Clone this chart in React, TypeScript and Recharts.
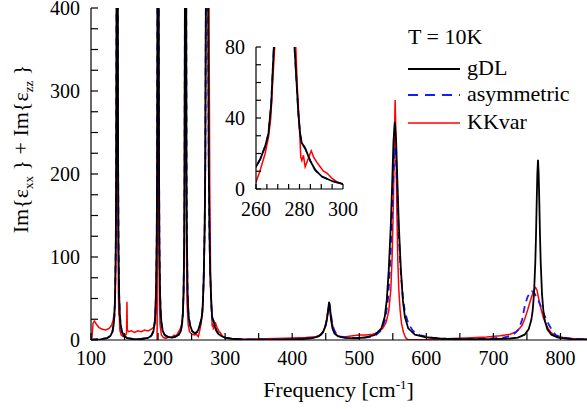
import React from 'react';
import { LineChart, Line, XAxis, YAxis } from 'recharts';

const FONT = 'Liberation Serif';
const fontCss = ".serif-chart text, .serif-chart tspan { font-family: 'Liberation Serif', serif !important; }";

// [frequency cm^-1, Im eps]
const gdlSeries: [number, number][] = [
  [100, 0.5], [114, 0.8], [124, 2.2], [129, 5], [132, 10], [134, 20], [135, 31], [136, 54], [137, 118], [137.5, 200],
  [138, 400], [138.5, 1000], [139, 2000], [139.5, 1000], [140, 400], [140.5, 200], [141, 118], [142, 54], [143, 31],
  [144, 20], [146, 10], [149, 5], [154, 2.3], [164, 1], [175, 1.2], [185, 2.5], [190, 5.2], [193, 10.3], [195, 20.5],
  [196, 31.5], [197, 55], [198, 119], [198.5, 200], [199, 400], [199.5, 1000], [200, 2000], [200.5, 1000], [201, 400],
  [201.5, 200], [202, 119], [203, 55], [204, 32], [205, 21], [207, 11], [210, 6], [215, 3.5], [221, 3], [226, 4],
  [231, 6.5], [234, 11], [236, 21], [237, 32], [238, 56], [239, 120], [239.5, 202], [240, 402], [240.5, 1000],
  [241, 2000], [241.5, 1000], [242, 402], [242.5, 202], [243, 122], [244, 59], [245, 36], [246, 26], [248, 17],
  [251, 10.5], [255, 8], [258, 9.5], [260, 12.5], [262, 17], [264.2, 24], [265.7, 31], [267, 48], [267.7, 67],
  [268.2, 80], [269.5, 135], [270.5, 220], [271.5, 450], [272.5, 1200], [273, 1800], [273.5, 1200], [274.5, 450],
  [275.5, 220], [276.5, 135], [277.7, 80], [278.8, 57], [279.5, 42], [280.3, 31], [281, 26], [282.6, 23], [284.9, 16],
  [287.2, 10.7], [290.3, 7], [294.9, 4.5], [300, 2.8], [310, 1.5], [325, 0.8], [345, 0.5], [370, 0.5], [395, 0.8],
  [415, 1.2], [430, 2.2], [438, 4], [443, 6.5], [447, 11], [450, 18], [452, 26], [453.5, 35], [454.5, 43], [455, 46],
  [455.5, 43], [456.5, 35], [458, 24], [460, 14], [463, 8], [468, 4.5], [478, 2.5], [493, 2], [508, 3], [523, 6],
  [533, 14], [538, 28], [541, 48], [544, 85], [547, 138], [549, 187], [551, 239], [553, 263], [555, 239], [557, 187],
  [559, 138], [562, 85], [565, 48], [568, 28], [573, 14], [583, 6.5], [598, 3.5], [623, 1.5], [660, 1], [700, 1],
  [725, 1.8], [736.5, 2.9], [746.5, 6.4], [752.5, 12.8], [756.5, 24], [758.5, 35], [760.5, 55], [762.5, 94],
  [763.5, 125], [764.5, 164], [765.5, 200], [766.5, 217], [767.5, 200], [768.5, 164], [769.5, 125], [770.5, 94],
  [772.5, 55], [774.5, 35], [776.5, 24], [780.5, 12.8], [786.5, 6.4], [796.5, 2.9], [816, 1.1], [850, 0.5],
];

const asymSeries: [number, number][] = [
  [100, 0.5], [124, 2.2], [129, 5], [132, 10], [134, 20], [135, 31], [136, 54], [137, 118], [137.5, 200], [138, 400],
  [138.5, 1000], [139, 2000], [139.5, 1000], [140, 400], [140.5, 200], [141, 118], [142, 54], [143, 31], [144, 20],
  [146, 10], [149, 5], [154, 2.3], [164, 1], [175, 1.2], [185, 2.5], [190, 5.2], [193, 10.3], [195, 20.5], [196, 31.5],
  [197, 55], [198, 119], [198.5, 200], [199, 400], [199.5, 1000], [200, 2000], [200.5, 1000], [201, 400], [201.5, 200],
  [202, 119], [203, 55], [204, 32], [205, 21], [207, 11], [210, 6], [215, 3.5], [221, 3], [226, 4], [231, 6.5],
  [234, 11], [236, 21], [237, 32], [238, 56], [239, 120], [239.5, 202], [240, 402], [240.5, 1000], [241, 2000],
  [241.5, 1000], [242, 402], [242.5, 202], [243, 122], [244, 59], [245, 36], [246, 26], [248, 17], [251, 10.5],
  [255, 8], [258, 9.5], [260, 12.5], [262, 17], [264.2, 24], [265.7, 31], [267, 48], [267.7, 67], [268.2, 80],
  [269.5, 135], [270.5, 220], [271.5, 450], [272.5, 1200], [273, 1800], [273.5, 1200], [274.5, 450], [275.5, 220],
  [276.5, 135], [277.7, 80], [278.8, 57], [279.5, 42], [280.3, 31], [281, 26], [282.6, 23], [284.9, 16], [287.2, 10.7],
  [290.3, 7], [294.9, 4.5], [300, 2.8], [310, 1.5], [330, 0.8], [370, 0.6], [410, 1.2], [430, 2.4], [440, 4.5],
  [446, 9], [449, 15], [451, 22], [453, 33], [454.5, 42], [455.5, 44], [457, 36], [459, 24], [462, 13], [466, 7],
  [473, 4], [485, 2.5], [500, 2.5], [515, 3.5], [525, 6], [533, 12], [539, 25], [543, 50], [546, 90], [549, 150],
  [551, 200], [553, 232], [555, 215], [557, 170], [559, 125], [562, 80], [565, 52], [568, 34], [573, 20], [580, 11],
  [590, 6], [605, 3], [630, 1.5], [670, 1], [700, 2], [715, 3], [725, 5], [732, 8], [738, 13], [743, 25], [747, 42],
  [751, 52], [756, 59], [760, 58], [764, 52], [768, 46], [773, 36], [778, 26], [783, 18], [788, 11], [793, 6],
  [800, 3.5], [815, 1.5], [850, 0.6],
];

const kkvarSeries: [number, number][] = [
  [100, 1], [101.5, 3], [103, 20], [105, 23], [108, 19], [112, 15], [117, 13], [122, 12], [127, 14], [131, 18],
  [133, 24], [135, 35], [136, 55], [137, 100], [137.8, 200], [138.4, 420], [139, 1500], [139.6, 420], [140.2, 150],
  [140.8, 60], [141.5, 30], [142.3, 28], [143, 12], [145, 6], [148, 4], [151, 5], [153, 8], [153.6, 46], [154.2, 12],
  [156, 10], [160, 11], [165, 9], [170, 11], [175, 10], [180, 12], [185, 11], [190, 13], [194, 16], [195.5, 25],
  [196.5, 58], [197.3, 50], [198, 130], [198.6, 0], [199.3, 300], [200, 1500], [200.7, 350], [201.3, 120], [202, 45],
  [203, 18], [205, 6], [208, 3], [212, 2], [216, 4], [220, 3], [224, 6], [227, 5], [230, 9], [233, 13], [235, 18],
  [236.5, 28], [238, 55], [239, 120], [240, 420], [240.7, 1500], [241.4, 420], [242.2, 120], [243.2, 45], [245, 18],
  [247, 10], [250, 7], [254, 6], [257, 7], [260, 4], [261.8, 10], [264.2, 20], [265.7, 29], [266.8, 40], [267.7, 61],
  [268.6, 80], [270, 180], [272, 600], [273.5, 1600], [275, 600], [277, 190], [278.3, 80], [279, 57], [279.8, 39],
  [280.6, 18], [281.1, 16], [281.8, 19], [282.6, 12.5], [283.7, 16], [285.4, 21.5], [286.5, 18], [288, 15],
  [289.5, 12.5], [291, 10], [292.6, 9], [295, 6], [297.2, 4], [300, 2.6], [310, 1.5], [330, 1], [360, 1.5], [390, 2],
  [420, 3], [435, 4], [442, 6], [446, 10], [449, 16], [451, 23], [453, 32], [454.5, 41], [455.5, 44], [457, 35],
  [459, 22], [462, 12], [466, 6], [472, 4], [480, 4], [490, 5], [500, 6], [510, 6], [520, 7], [528, 9], [535, 14],
  [540, 21], [544, 35], [547, 60], [549, 100], [551, 170], [552.5, 250], [553.5, 289], [554.5, 250], [556, 160],
  [557.5, 95], [559, 60], [561, 35], [563, 20], [566, 9], [569, 3], [572, 0.5], [580, 0.3], [600, 0.5], [630, 1.5],
  [660, 2.5], [690, 3.5], [710, 5], [725, 7], [734, 10], [739, 14], [743, 18], [747, 26], [751, 36], [755, 47],
  [758.6, 56], [761, 61], [763, 63], [765, 60], [767, 52], [769, 44], [771.5, 36], [774, 28], [778, 20], [781.5, 14],
  [785, 10], [789, 7], [795, 4.5], [804, 3], [820, 1.5], [850, 0.8],
];

const mainXTicks = [100, 150, 200, 250, 300, 350, 400, 450, 500, 550, 600, 650, 700, 750, 800];
const mainXLabels = [100, 200, 300, 400, 500, 600, 700, 800];
const mainYTicks = [0, 25, 50, 75, 100, 125, 150, 175, 200, 225, 250, 275, 300, 325, 350, 375, 400];
const mainYLabels = [0, 100, 200, 300, 400];
const insetXTicks = [260, 265, 270, 275, 280, 285, 290, 295, 300];
const insetXLabels = [260, 280, 300];
const insetYTicks = [0, 10, 20, 30, 40, 50, 60, 70, 80];
const insetYLabels = [0, 40, 80];

const legendTitle = 'T = 10K';
const seriesNames = ['gDL', 'asymmetric', 'KKvar'];

const toPts = (s: [number, number][]) => s.map(([x, y]) => ({ x, y }));
const gdlData = toPts(gdlSeries);
const asymData = toPts(asymSeries);
const kkData = toPts(kkvarSeries);

const makeTick = (labels: number[], kind: 'x' | 'y', fs: number) => (props: any) => {
  const { x, y, payload } = props;
  if (!labels.includes(payload.value)) return <g />;
  return (
    <text x={x} y={y} textAnchor={kind === 'x' ? 'middle' : 'end'} dy={kind === 'x' ? '0.71em' : '0.355em'}
      fontSize={fs} fontFamily={FONT} fill="#000">{payload.value}</text>
  );
};

const axisStroke = { stroke: '#000', strokeWidth: 1.2 };

export default function App() {
  return (
    <div className="serif-chart" style={{ position: 'absolute', left: 0, top: 0, width: 587, height: 409, overflow: 'hidden', background: '#fff' }}>
      <style>{fontCss}</style>
      <div style={{ position: 'absolute', left: 0, top: 0 }}>
        <LineChart width={594} height={409} margin={{ top: 8, right: 0, bottom: 0, left: 0 }}>
          <XAxis xAxisId="t" orientation="top" type="number" dataKey="x" domain={[100, 850]} allowDataOverflow
            ticks={mainXTicks} interval={0} tick={false} tickSize={-7} height={0} axisLine={axisStroke} tickLine={axisStroke} />
          <XAxis xAxisId="b" orientation="bottom" type="number" dataKey="x" domain={[100, 850]} allowDataOverflow
            ticks={mainXTicks} interval={0} tick={makeTick(mainXLabels, 'x', 20)} tickSize={-7} tickMargin={18}
            height={69} axisLine={axisStroke} tickLine={axisStroke} />
          <YAxis yAxisId="r" orientation="right" type="number" domain={[0, 400]} allowDataOverflow ticks={mainYTicks}
            interval={0} tick={false} tickSize={-10} width={0} axisLine={axisStroke} tickLine={axisStroke} />
          <YAxis yAxisId="l" orientation="left" type="number" domain={[0, 400]} allowDataOverflow ticks={mainYTicks}
            interval={0} tick={makeTick(mainYLabels, 'y', 20)} tickSize={-7} tickMargin={18} width={91}
            axisLine={axisStroke} tickLine={axisStroke} />
          <Line data={kkData} dataKey="y" xAxisId="b" yAxisId="l" type="linear" stroke="#ff0000" strokeWidth={1.5}
            dot={false} isAnimationActive={false} />
          <Line data={asymData} dataKey="y" xAxisId="b" yAxisId="l" type="linear" stroke="#1a1aff" strokeWidth={1.8}
            strokeDasharray="7 5" dot={false} isAnimationActive={false} />
          <Line data={gdlData} dataKey="y" xAxisId="b" yAxisId="l" type="linear" stroke="#000" strokeWidth={1.8}
            dot={false} isAnimationActive={false} />
        </LineChart>
      </div>

      <div style={{ position: 'absolute', left: 216, top: 37 }}>
        <LineChart width={145} height={182} margin={{ top: 10, right: 18, bottom: 0, left: 0 }}>
          <XAxis xAxisId="t" orientation="top" type="number" dataKey="x" domain={[260, 300]} allowDataOverflow
            ticks={insetXTicks} interval={0} tick={false} tickSize={-5} height={0} axisLine={axisStroke} tickLine={axisStroke} />
          <XAxis xAxisId="b" orientation="bottom" type="number" dataKey="x" domain={[260, 300]} allowDataOverflow
            ticks={insetXTicks} interval={0} tick={makeTick(insetXLabels, 'x', 20)} tickSize={-5} tickMargin={18}
            height={30} axisLine={axisStroke} tickLine={axisStroke} />
          <YAxis yAxisId="r" orientation="right" type="number" domain={[0, 80]} allowDataOverflow ticks={insetYTicks}
            interval={0} tick={false} tickSize={-5} width={0} axisLine={axisStroke} tickLine={axisStroke} />
          <YAxis yAxisId="l" orientation="left" type="number" domain={[0, 80]} allowDataOverflow ticks={insetYTicks}
            interval={0} tick={makeTick(insetYLabels, 'y', 20)} tickSize={-5} tickMargin={16} width={40}
            axisLine={axisStroke} tickLine={axisStroke} />
          <Line data={asymData} dataKey="y" xAxisId="b" yAxisId="l" type="linear" stroke="#1a1aff" strokeWidth={1.8}
            strokeDasharray="7 5" dot={false} isAnimationActive={false} />
          <Line data={kkData} dataKey="y" xAxisId="b" yAxisId="l" type="linear" stroke="#ff0000" strokeWidth={1.5}
            dot={false} isAnimationActive={false} />
          <Line data={gdlData} dataKey="y" xAxisId="b" yAxisId="l" type="linear" stroke="#000" strokeWidth={1.8}
            dot={false} isAnimationActive={false} />
        </LineChart>
      </div>

      <svg width={587} height={409} style={{ position: 'absolute', left: 0, top: 0, pointerEvents: 'none' }}>
        <text x={408} y={44} fontSize={22} fontFamily={FONT} fill="#000">{legendTitle}</text>
        <line x1={408} x2={460} y1={69} y2={69} stroke="#000" strokeWidth={1.8} />
        <text x={467} y={74.5} fontSize={22} fontFamily={FONT} fill="#000">{seriesNames[0]}</text>
        <line x1={408} x2={460} y1={95} y2={95} stroke="#1a1aff" strokeWidth={1.8} strokeDasharray="10 7" />
        <text x={467} y={100.5} fontSize={22} fontFamily={FONT} fill="#000">{seriesNames[1]}</text>
        <line x1={408} x2={460} y1={123} y2={123} stroke="#ff0000" strokeWidth={1.5} />
        <text x={467} y={129} fontSize={22} fontFamily={FONT} fill="#000">{seriesNames[2]}</text>

        <text x={338.5} y={396.5} fontSize={22} fontFamily={FONT} fill="#000" textAnchor="middle">
          Frequency [cm<tspan dy={-8} fontSize={13}>-1</tspan><tspan dy={8}>]</tspan>
        </text>

        <text x={28} y={149} fontSize={22} fontFamily={FONT} fill="#000" textAnchor="middle" transform="rotate(-90 28 149)">
          Im{'{'}ε<tspan dy={5} fontSize={13}>xx</tspan><tspan dy={-5}>{' } + Im{'}ε</tspan>
          <tspan dy={5} fontSize={13}>zz</tspan><tspan dy={-5}>{' }'}</tspan>
        </text>
      </svg>
    </div>
  );
}
